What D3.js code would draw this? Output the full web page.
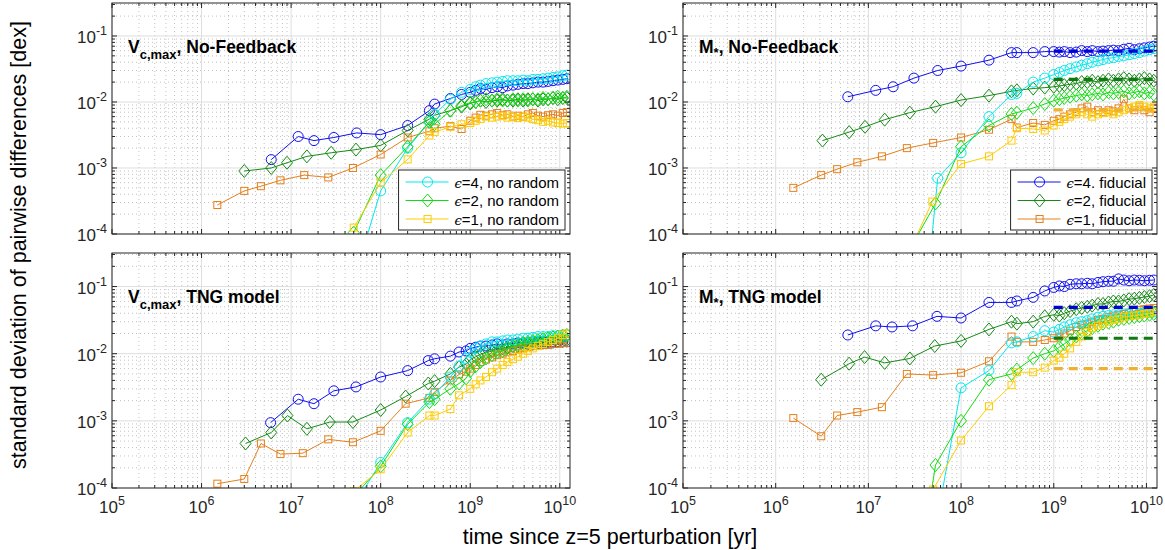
<!DOCTYPE html>
<html><head><meta charset="utf-8">
<script src="https://cdn.jsdelivr.net/npm/d3@7"></script>
<style>body{margin:0;background:#fff;}svg{display:block;font-family:"Liberation Sans",Arial,Helvetica,sans-serif;}</style>
</head><body><svg id="c" width="1165" height="550"></svg>
<script>
// ---------------- data ----------------
const X_TICKS = [1e5, 1e6, 1e7, 1e8, 1e9, 1e10];
const X_TICK_EXP = ["5", "6", "7", "8", "9", "10"];
const Y_TICKS = [1e-4, 1e-3, 1e-2, 1e-1];
const Y_TICK_EXP = ["-4", "-3", "-2", "-1"];
const X_DOMAIN = [1e5, 1.3e10];
const Y_DOMAIN = [1e-4, 0.316];
const LEG_NORAND = ["=4, no random", "=2, no random", "=1, no random"];
const LEG_FID = ["=4. fiducial", "=2, fiducial", "=1, fiducial"];
const T_LATE = [1.0e9,1.15e9,1.3e9,1.5e9,1.75e9,2.0e9,2.3e9,2.6e9,3.0e9,3.4e9,3.9e9,4.4e9,5.0e9,5.7e9,6.5e9,7.4e9,8.4e9,9.5e9,1.08e10,1.2e10];

// Vc,max  No-Feedback
const vNfE4Fid = [[6e6,1.34e-3],[1.2e7,3.0e-3],[1.8e7,2.6e-3],[3e7,2.9e-3],[5.4e7,3.4e-3],[1e8,3.2e-3],[2e8,4.4e-3],[3.5e8,7.4e-3],[4e8,9.3e-3],[6e8,1.13e-2],[8e8,1.3e-2]];
const vNfE4FidLate = [1.4e-2,1.5e-2,1.6e-2,1.55e-2,1.65e-2,1.7e-2,1.65e-2,1.75e-2,1.8e-2,1.85e-2,1.9e-2,1.9e-2,1.95e-2,2.0e-2,2.0e-2,2.05e-2,2.1e-2,2.15e-2,2.2e-2,2.25e-2];
const vNfE4Nr = [[5e7,2e-5],[1e8,4.5e-4],[2e8,2.0e-3],[3.5e8,5.0e-3],[4e8,6.5e-3],[6e8,1.1e-2],[8e8,1.4e-2]];
const vNfE4NrLate = [1.55e-2,1.7e-2,1.8e-2,1.9e-2,1.95e-2,2.0e-2,2.05e-2,2.1e-2,2.1e-2,2.1e-2,2.15e-2,2.1e-2,2.2e-2,2.2e-2,2.25e-2,2.3e-2,2.35e-2,2.4e-2,2.5e-2,2.55e-2];
const vNfE2Fid = [[3e6,9e-4],[6e6,1.0e-3],[9e6,1.2e-3],[1.5e7,1.5e-3],[2.8e7,1.7e-3],[5.3e7,1.9e-3],[1e8,2.2e-3],[2e8,3.7e-3],[3.5e8,5.5e-3],[4e8,6.3e-3],[6e8,7.4e-3],[8e8,8.5e-3]];
const vNfE2FidLate = [9.5e-3,1.0e-2,1.05e-2,1.0e-2,1.05e-2,1.05e-2,1.1e-2,1.05e-2,1.05e-2,1.1e-2,1.05e-2,1.1e-2,1.1e-2,1.05e-2,1.1e-2,1.1e-2,1.15e-2,1.1e-2,1.15e-2,1.15e-2];
const vNfE2Nr = [[5e7,1.05e-4],[1e8,7.8e-4],[2e8,2.1e-3],[3.5e8,5.0e-3],[4e8,4.6e-3],[6e8,7.4e-3],[8e8,8.8e-3]];
const vNfE2NrLate = [9.8e-3,1.0e-2,1.05e-2,1.1e-2,1.05e-2,1.1e-2,1.05e-2,1.05e-2,1.1e-2,1.05e-2,1.1e-2,1.05e-2,1.1e-2,1.1e-2,1.15e-2,1.1e-2,1.15e-2,1.2e-2,1.15e-2,1.2e-2];
const vNfE1Fid = [[1.5e6,2.75e-4],[3e6,4.5e-4],[4.6e6,5.3e-4],[7.6e6,6.5e-4],[1.4e7,7.8e-4],[2.6e7,7.2e-4],[4.9e7,1.0e-3],[1e8,1.6e-3],[2e8,2.9e-3],[3.5e8,3.6e-3],[4e8,4.0e-3],[6e8,4.3e-3],[8e8,3.9e-3]];
const vNfE1FidLate = [5.2e-3,5.8e-3,6.4e-3,6.2e-3,6.5e-3,6.8e-3,6.3e-3,6.5e-3,6.0e-3,6.2e-3,6.0e-3,6.5e-3,6.8e-3,6.2e-3,6.0e-3,6.3e-3,6.5e-3,6.2e-3,6.8e-3,7.0e-3];
const vNfE1Nr = [[5e7,1.25e-4],[1e8,6e-4],[2e8,1.35e-3],[3.5e8,3.1e-3],[4e8,3.5e-3],[6e8,4.2e-3],[8e8,4.6e-3]];
const vNfE1NrLate = [4.8e-3,5.2e-3,5.5e-3,6.0e-3,5.8e-3,6.0e-3,6.2e-3,5.8e-3,6.0e-3,5.7e-3,6.0e-3,5.8e-3,5.5e-3,5.3e-3,5.0e-3,5.2e-3,4.9e-3,4.8e-3,4.7e-3,4.8e-3];

// M*  No-Feedback
const mNfE4Fid = [[6e6,1.2e-2],[1.2e7,1.5e-2],[1.85e7,1.7e-2],[3.1e7,2.3e-2],[5.6e7,3.0e-2],[1e8,3.5e-2],[2e8,4.3e-2],[3.5e8,5.6e-2],[4e8,5.6e-2],[6e8,5.6e-2],[8e8,5.8e-2]];
const mNfE4FidLate = [5.8e-2,5.7e-2,5.8e-2,5.6e-2,5.7e-2,6.0e-2,5.8e-2,6.0e-2,5.8e-2,5.9e-2,6.0e-2,6.1e-2,6.0e-2,6.3e-2,6.5e-2,6.2e-2,6.4e-2,6.6e-2,6.8e-2,7.0e-2];
const mNfE4Nr = [[4e7,6e-6],[5.6e7,7e-4],[1e8,1.7e-3],[2e8,6e-3],[3.5e8,1.3e-2],[4e8,1.35e-2],[6e8,2.0e-2],[8e8,2.3e-2]];
const mNfE4NrLate = [2.6e-2,2.8e-2,3.0e-2,3.2e-2,3.4e-2,3.6e-2,3.8e-2,4.0e-2,4.2e-2,4.4e-2,4.6e-2,4.7e-2,4.9e-2,5.0e-2,5.2e-2,5.4e-2,5.6e-2,5.9e-2,6.2e-2,6.4e-2];
const mNfE2Fid = [[3.2e6,2.6e-3],[6.2e6,3.5e-3],[9.2e6,4.2e-3],[1.5e7,5.4e-3],[2.8e7,6.9e-3],[5.3e7,8.5e-3],[1e8,1.07e-2],[2e8,1.25e-2],[3.5e8,1.45e-2],[4e8,1.5e-2],[6e8,1.6e-2],[8e8,1.65e-2]];
const mNfE2FidLate = [1.7e-2,1.75e-2,1.8e-2,1.85e-2,1.9e-2,2.0e-2,2.0e-2,2.1e-2,2.0e-2,2.1e-2,2.2e-2,2.1e-2,2.2e-2,2.3e-2,2.2e-2,2.1e-2,2.2e-2,2.3e-2,2.2e-2,2.1e-2];
const mNfE2Nr = [[3e7,7e-5],[5.3e7,2.9e-4],[1e8,2.1e-3],[2e8,4.4e-3],[3.5e8,6.6e-3],[4e8,6.9e-3],[6e8,8.1e-3],[8e8,9.3e-3]];
const mNfE2NrLate = [1.05e-2,1.1e-2,1.15e-2,1.2e-2,1.25e-2,1.3e-2,1.25e-2,1.3e-2,1.35e-2,1.3e-2,1.4e-2,1.35e-2,1.4e-2,1.45e-2,1.35e-2,1.4e-2,1.45e-2,1.35e-2,1.4e-2,1.3e-2];
const mNfE1Fid = [[1.55e6,5.0e-4],[3.1e6,7.8e-4],[4.6e6,9.6e-4],[7.6e6,1.22e-3],[1.4e7,1.5e-3],[2.6e7,2.0e-3],[5e7,2.4e-3],[1e8,2.9e-3],[2e8,3.8e-3],[3.5e8,5.5e-3],[4e8,4.1e-3],[6e8,4.8e-3],[8e8,4.5e-3]];
const mNfE1FidLate = [5.2e-3,5.5e-3,6.0e-3,6.5e-3,7.0e-3,8.0e-3,8.5e-3,7.0e-3,7.5e-3,7.0e-3,7.5e-3,7.2e-3,8.0e-3,1.1e-2,8.0e-3,7.5e-3,8.5e-3,7.5e-3,7.0e-3,8.0e-3];
const mNfE1Nr = [[3e7,7e-5],[4.9e7,3.1e-4],[1e8,1.15e-3],[2e8,1.5e-3],[3.5e8,2.6e-3],[4e8,4.0e-3],[6e8,3.9e-3],[8e8,3.7e-3]];
const mNfE1NrLate = [4.4e-3,5.0e-3,5.5e-3,6.0e-3,6.5e-3,7.0e-3,6.5e-3,6.0e-3,6.5e-3,6.8e-3,7.0e-3,6.5e-3,7.0e-3,7.5e-3,8.0e-3,8.5e-3,9.0e-3,8.5e-3,8.0e-3,8.5e-3];
const mNfDash = [5.9e-2, 2.2e-2, 7.6e-3];

// Vc,max  TNG
const vTgE4Fid = [[5.9e6,9.4e-4],[1.2e7,2.1e-3],[1.8e7,1.8e-3],[3e7,2.8e-3],[5.3e7,3.2e-3],[1e8,4.5e-3],[2e8,5.6e-3],[3.4e8,7.9e-3],[4e8,8.4e-3],[6e8,9.2e-3],[7.5e8,1.06e-2],[9e8,1.1e-2]];
const vTgE4FidLate = [1.2e-2,1.25e-2,1.3e-2,1.3e-2,1.35e-2,1.4e-2,1.35e-2,1.4e-2,1.4e-2,1.45e-2,1.45e-2,1.45e-2,1.5e-2,1.5e-2,1.5e-2,1.5e-2,1.5e-2,1.5e-2,1.5e-2,1.5e-2];
const vTgE4Nr = [[5e7,5.4e-5],[1e8,2.4e-4],[2e8,9.4e-4],[3.5e8,2.1e-3],[4e8,2.5e-3],[6e8,4.5e-3],[7.5e8,6.5e-3],[9e8,8.5e-3]];
const vTgE4NrLate = [1.05e-2,1.2e-2,1.3e-2,1.4e-2,1.5e-2,1.5e-2,1.55e-2,1.6e-2,1.6e-2,1.65e-2,1.7e-2,1.7e-2,1.75e-2,1.8e-2,1.8e-2,1.8e-2,1.85e-2,1.85e-2,1.9e-2,1.9e-2];
const vTgE2Fid = [[3.1e6,4.6e-4],[6e6,6.7e-4],[9.1e6,1.2e-3],[1.5e7,7.6e-4],[2.7e7,9.6e-4],[4.9e7,9.6e-4],[1e8,1.45e-3],[1.9e8,2.3e-3],[3.4e8,3.6e-3],[4e8,3.9e-3],[6e8,5.0e-3],[7.5e8,6.3e-3],[9e8,7e-3]];
const vTgE2FidLate = [8.2e-3,9.0e-3,9.8e-3,1.05e-2,1.1e-2,1.15e-2,1.2e-2,1.25e-2,1.3e-2,1.3e-2,1.35e-2,1.4e-2,1.4e-2,1.45e-2,1.45e-2,1.5e-2,1.5e-2,1.55e-2,1.55e-2,1.6e-2];
const vTgE2Nr = [[5e7,7.4e-5],[1e8,2.1e-4],[2e8,8.9e-4],[3.5e8,1.9e-3],[4e8,2.1e-3],[6e8,3.0e-3],[7.5e8,3.6e-3],[9e8,4.3e-3]];
const vTgE2NrLate = [5.5e-3,6.5e-3,7.5e-3,8.5e-3,9.5e-3,1.05e-2,1.1e-2,1.2e-2,1.3e-2,1.35e-2,1.45e-2,1.5e-2,1.55e-2,1.6e-2,1.65e-2,1.7e-2,1.75e-2,1.8e-2,1.85e-2,1.9e-2];
const vTgE1Fid = [[1.5e6,1.16e-4],[3e6,1.36e-4],[4.6e6,4.6e-4],[7.6e6,3.2e-4],[1.35e7,3.3e-4],[2.6e7,5.3e-4],[4.9e7,4.8e-4],[1e8,7.1e-4],[1.9e8,1.8e-3],[3.5e8,2.2e-3],[4e8,2.7e-3],[6e8,4.0e-3],[7.5e8,4.9e-3],[9e8,5.4e-3]];
const vTgE1FidLate = [6.0e-3,6.8e-3,7.5e-3,8.2e-3,8.8e-3,9.5e-3,1.0e-2,1.05e-2,1.1e-2,1.15e-2,1.2e-2,1.25e-2,1.3e-2,1.3e-2,1.35e-2,1.35e-2,1.4e-2,1.4e-2,1.45e-2,1.45e-2];
const vTgE1Nr = [[5e7,9e-5],[1e8,1.9e-4],[2e8,6.7e-4],[3.5e8,1.2e-3],[4e8,1.2e-3],[6e8,1.5e-3],[7.5e8,2.4e-3]];
const vTgE1NrLate = [3.0e-3,3.5e-3,4.0e-3,4.5e-3,5.3e-3,6.0e-3,6.8e-3,7.5e-3,8.3e-3,9.0e-3,1.0e-2,1.1e-2,1.2e-2,1.3e-2,1.4e-2,1.5e-2,1.6e-2,1.7e-2,1.9e-2,2.0e-2];

// M*  TNG
const mTgE4Fid = [[6e6,1.9e-2],[1.2e7,2.6e-2],[1.8e7,2.5e-2],[3e7,2.6e-2],[5.5e7,3.6e-2],[1e8,3.4e-2],[2e8,5.8e-2],[3.5e8,5.8e-2],[4e8,6.1e-2],[6e8,6.9e-2],[8e8,8.6e-2]];
const mTgE4FidLate = [9.7e-2,1.02e-1,1.0e-1,1.08e-1,1.1e-1,1.1e-1,1.12e-1,1.1e-1,1.15e-1,1.18e-1,1.2e-1,1.2e-1,1.3e-1,1.25e-1,1.22e-1,1.25e-1,1.24e-1,1.22e-1,1.24e-1,1.25e-1];
const mTgE4Nr = [[5e7,1.6e-5],[1e8,3.1e-3],[2e8,5.6e-3],[3.5e8,1.45e-2],[4e8,1.5e-2],[6e8,1.8e-2],[8e8,2.2e-2]];
const mTgE4NrLate = [2.1e-2,2.3e-2,2.5e-2,2.7e-2,2.9e-2,3.0e-2,3.1e-2,3.3e-2,3.5e-2,3.6e-2,3.7e-2,3.8e-2,3.8e-2,3.9e-2,3.9e-2,4.0e-2,4.0e-2,4.1e-2,4.1e-2,4.2e-2];
const mTgE2Fid = [[3.1e6,4.1e-3],[6.2e6,7.1e-3],[9.1e6,8.9e-3],[1.5e7,7.3e-3],[2.8e7,8.5e-3],[5.2e7,1.3e-2],[1e8,1.55e-2],[2e8,2.3e-2],[3.5e8,3.0e-2],[4e8,2.8e-2],[6e8,3.0e-2],[8e8,3.6e-2]];
const mTgE2FidLate = [3.8e-2,3.7e-2,4.0e-2,4.3e-2,4.6e-2,4.8e-2,5.0e-2,5.2e-2,5.5e-2,5.5e-2,5.8e-2,6.0e-2,6.0e-2,6.2e-2,6.5e-2,6.6e-2,6.8e-2,7.0e-2,7.2e-2,7.5e-2];
const mTgE2Nr = [[4e7,1.8e-5],[5.3e7,2.2e-4],[1e8,1.0e-3],[2e8,4.1e-3],[3.5e8,5.0e-3],[4e8,5.8e-3],[6e8,8.6e-3],[8e8,1.0e-2]];
const mTgE2NrLate = [1.1e-2,1.25e-2,1.4e-2,1.6e-2,1.8e-2,2.0e-2,2.2e-2,2.4e-2,2.6e-2,2.8e-2,2.9e-2,3.0e-2,3.2e-2,3.3e-2,3.4e-2,3.5e-2,3.6e-2,3.7e-2,3.8e-2,3.9e-2];
const mTgE1Fid = [[1.55e6,1.1e-3],[3.1e6,5.9e-4],[4.6e6,1.2e-3],[7.6e6,1.35e-3],[1.4e7,1.6e-3],[2.6e7,5.0e-3],[5e7,4.8e-3],[1e8,5.2e-3],[2e8,7.7e-3],[3.5e8,1.8e-2],[4e8,1.5e-2],[6e8,1.5e-2],[8e8,1.6e-2]];
const mTgE1FidLate = [1.7e-2,1.8e-2,2.0e-2,2.2e-2,2.5e-2,2.7e-2,2.8e-2,3.0e-2,3.2e-2,3.3e-2,3.5e-2,3.7e-2,3.8e-2,3.9e-2,4.1e-2,4.3e-2,4.5e-2,4.6e-2,4.7e-2,4.8e-2];
const mTgE1Nr = [[5e7,9.5e-5],[1e8,5.1e-4],[2e8,1.65e-3],[3.5e8,3.4e-3],[4e8,5.3e-3],[6e8,5.3e-3],[8e8,6.2e-3]];
const mTgE1NrLate = [7.9e-3,8.7e-3,1.0e-2,1.2e-2,1.5e-2,1.8e-2,2.1e-2,2.4e-2,2.6e-2,2.8e-2,3.0e-2,3.2e-2,3.3e-2,3.5e-2,3.6e-2,3.7e-2,3.8e-2,3.9e-2,4.0e-2,4.2e-2];
const mTgDash = [4.9e-2, 1.7e-2, 6.0e-3];

// ---------------- styles & layout ----------------
const STY = {
  e4f: {color: "#1010ee", marker: "circle"},
  e2f: {color: "#158a15", marker: "diamond"},
  e1f: {color: "#e5801c", marker: "square"},
  e4n: {color: "#00e8ee", marker: "circle"},
  e2n: {color: "#14dc14", marker: "diamond"},
  e1n: {color: "#ffcc00", marker: "square"}
};
const DASH_COL = ["#0000d8", "#107a10", "#f0b030"];
const join = (early, late) => early.concat(late.map((v, i) => [T_LATE[i], v]));

const panels = [
  {x0:112, x1:570, y0:3, y1:234, tMain:"V", tSub:"c,max", tRest:", No-Feedback", subDy:6, xLabels:false,
   series:[["e4f",join(vNfE4Fid,vNfE4FidLate)],["e2f",join(vNfE2Fid,vNfE2FidLate)],["e1f",join(vNfE1Fid,vNfE1FidLate)],
           ["e4n",join(vNfE4Nr,vNfE4NrLate)],["e2n",join(vNfE2Nr,vNfE2NrLate)],["e1n",join(vNfE1Nr,vNfE1NrLate)]],
   legend:{keys:["e4n","e2n","e1n"], labels:LEG_NORAND}, dash:null},
  {x0:683, x1:1157, y0:3, y1:234, tMain:"M", tSub:"*", tRest:", No-Feedback", subDy:4, xLabels:false,
   series:[["e4f",join(mNfE4Fid,mNfE4FidLate)],["e2f",join(mNfE2Fid,mNfE2FidLate)],["e1f",join(mNfE1Fid,mNfE1FidLate)],
           ["e4n",join(mNfE4Nr,mNfE4NrLate)],["e2n",join(mNfE2Nr,mNfE2NrLate)],["e1n",join(mNfE1Nr,mNfE1NrLate)]],
   legend:{keys:["e4f","e2f","e1f"], labels:LEG_FID}, dash:mNfDash},
  {x0:112, x1:570, y0:253, y1:488, tMain:"V", tSub:"c,max", tRest:", TNG model", subDy:6, xLabels:true,
   series:[["e4f",join(vTgE4Fid,vTgE4FidLate)],["e2f",join(vTgE2Fid,vTgE2FidLate)],["e1f",join(vTgE1Fid,vTgE1FidLate)],
           ["e4n",join(vTgE4Nr,vTgE4NrLate)],["e2n",join(vTgE2Nr,vTgE2NrLate)],["e1n",join(vTgE1Nr,vTgE1NrLate)]],
   legend:null, dash:null},
  {x0:683, x1:1157, y0:253, y1:488, tMain:"M", tSub:"*", tRest:", TNG model", subDy:4, xLabels:true,
   series:[["e4f",join(mTgE4Fid,mTgE4FidLate)],["e2f",join(mTgE2Fid,mTgE2FidLate)],["e1f",join(mTgE1Fid,mTgE1FidLate)],
           ["e4n",join(mTgE4Nr,mTgE4NrLate)],["e2n",join(mTgE2Nr,mTgE2NrLate)],["e1n",join(mTgE1Nr,mTgE1NrLate)]],
   legend:null, dash:mTgDash}
];

const svg = d3.select("#c");
svg.append("rect").attr("width",1165).attr("height",550).attr("fill","#fff");
const AX = "#262626";

function marker(g, type, color, x, y) {
  if (type === "circle") g.append("circle").attr("cx",x).attr("cy",y).attr("r",5).attr("fill","none").attr("stroke",color).attr("stroke-width",1);
  else if (type === "diamond") g.append("path").attr("d",`M${x},${y-6.5}L${x+5.5},${y}L${x},${y+6.5}L${x-5.5},${y}Z`).attr("fill","none").attr("stroke",color).attr("stroke-width",1);
  else g.append("rect").attr("x",x-3.5).attr("y",y-3.5).attr("width",7).attr("height",7).attr("fill","none").attr("stroke",color).attr("stroke-width",1);
}

function minorTicks(domain) {
  const out = [];
  const lo = Math.floor(Math.log10(domain[0])), hi = Math.ceil(Math.log10(domain[1]));
  for (let e = lo; e <= hi; e++) for (let m = 2; m <= 9; m++) {
    const v = m * Math.pow(10, e);
    if (v > domain[0] && v < domain[1]) out.push(v);
  }
  return out;
}

panels.forEach((p, pi) => {
  const x = d3.scaleLog().domain(X_DOMAIN).range([p.x0, p.x1]);
  const y = d3.scaleLog().domain(Y_DOMAIN).range([p.y1, p.y0]);
  const g = svg.append("g");
  const clipId = "clip" + pi;
  svg.append("clipPath").attr("id", clipId).append("rect")
    .attr("x", p.x0).attr("y", p.y0).attr("width", p.x1 - p.x0).attr("height", p.y1 - p.y0);

  const gg = g.append("g");
  minorTicks(X_DOMAIN).forEach(v => gg.append("line").attr("x1",x(v)).attr("x2",x(v)).attr("y1",p.y0).attr("y2",p.y1)
     .attr("stroke","#b4b4b4").attr("stroke-width",0.8).attr("stroke-dasharray","1,3"));
  minorTicks(Y_DOMAIN).forEach(v => gg.append("line").attr("y1",y(v)).attr("y2",y(v)).attr("x1",p.x0).attr("x2",p.x1)
     .attr("stroke","#b4b4b4").attr("stroke-width",0.8).attr("stroke-dasharray","1,3"));
  X_TICKS.forEach(v => gg.append("line").attr("x1",x(v)).attr("x2",x(v)).attr("y1",p.y0).attr("y2",p.y1).attr("stroke","#dedede").attr("stroke-width",1));
  Y_TICKS.forEach(v => gg.append("line").attr("y1",y(v)).attr("y2",y(v)).attr("x1",p.x0).attr("x2",p.x1).attr("stroke","#dedede").attr("stroke-width",1));

  const sg = g.append("g").attr("clip-path", `url(#${clipId})`);
  const line = d3.line().x(d => x(d[0])).y(d => y(d[1]));
  p.series.forEach(([key, data]) => {
    const s = STY[key];
    sg.append("path").attr("d", line(data)).attr("fill","none").attr("stroke", s.color).attr("stroke-width",1);
    data.forEach(d => marker(sg, s.marker, s.color, x(d[0]), y(d[1])));
  });

  if (p.dash) p.dash.forEach((v, i) => {
    sg.append("line").attr("x1", x(1e9)).attr("x2", p.x1).attr("y1", y(v)).attr("y2", y(v))
      .attr("stroke", DASH_COL[i]).attr("stroke-width", 3.2).attr("stroke-dasharray", "9,6");
  });

  const ag = g.append("g").attr("stroke", AX).attr("stroke-width", 1).attr("fill","none");
  ag.append("rect").attr("x",p.x0).attr("y",p.y0).attr("width",p.x1-p.x0).attr("height",p.y1-p.y0);
  X_TICKS.forEach(v => { const xx = x(v);
    ag.append("line").attr("x1",xx).attr("x2",xx).attr("y1",p.y1).attr("y2",p.y1-5);
    ag.append("line").attr("x1",xx).attr("x2",xx).attr("y1",p.y0).attr("y2",p.y0+5); });
  minorTicks(X_DOMAIN).forEach(v => { const xx = x(v);
    ag.append("line").attr("x1",xx).attr("x2",xx).attr("y1",p.y1).attr("y2",p.y1-3);
    ag.append("line").attr("x1",xx).attr("x2",xx).attr("y1",p.y0).attr("y2",p.y0+3); });
  Y_TICKS.forEach(v => { const yy = y(v);
    ag.append("line").attr("y1",yy).attr("y2",yy).attr("x1",p.x0).attr("x2",p.x0+5);
    ag.append("line").attr("y1",yy).attr("y2",yy).attr("x1",p.x1).attr("x2",p.x1-5); });
  minorTicks(Y_DOMAIN).forEach(v => { const yy = y(v);
    ag.append("line").attr("y1",yy).attr("y2",yy).attr("x1",p.x0).attr("x2",p.x0+3);
    ag.append("line").attr("y1",yy).attr("y2",yy).attr("x1",p.x1).attr("x2",p.x1-3); });

  Y_TICKS.forEach((v, i) => {
    const t = g.append("text").attr("x", p.x0 - 5).attr("y", y(v) + 7).attr("text-anchor","end")
      .attr("font-size", 17).attr("fill", AX);
    t.append("tspan").text("10");
    t.append("tspan").attr("dy", -8).attr("font-size", 12.5).text(Y_TICK_EXP[i]);
  });
  if (p.xLabels) X_TICKS.forEach((v, i) => {
    const t = g.append("text").attr("x", x(v)).attr("y", p.y1 + 25).attr("text-anchor","middle")
      .attr("font-size", 17).attr("fill", AX);
    t.append("tspan").text("10");
    t.append("tspan").attr("dy", -8).attr("font-size", 12.5).text(X_TICK_EXP[i]);
  });

  const tt = g.append("text").attr("x", p.x0 + 16).attr("y", p.y0 + 50).attr("font-size", 17.5)
    .attr("font-weight", "bold").attr("fill", "#000");
  tt.append("tspan").text(p.tMain);
  tt.append("tspan").attr("dy", p.subDy).attr("font-size", 13).text(p.tSub);
  tt.append("tspan").attr("dy", -p.subDy).text(p.tRest);

  if (p.legend) {
    const lg = g.append("g");
    const box = lg.append("rect").attr("fill","#fff").attr("stroke", AX).attr("stroke-width", 1);
    const texts = [];
    p.legend.keys.forEach((k, i) => {
      const t = lg.append("text").attr("font-size", 15).attr("fill", "#000");
      t.append("tspan").attr("font-family", "'DejaVu Serif', serif").attr("font-style","italic").attr("font-size", 13).text("\u03F5");
      t.append("tspan").text(p.legend.labels[i]);
      texts.push(t);
    });
    const tw = d3.max(texts, t => t.node().getComputedTextLength());
    const bw = 56 + tw + 6, bh = 60;
    const L = p.x1 - 5 - bw, T = p.y1 - 4 - bh;
    box.attr("x", L).attr("y", T).attr("width", bw).attr("height", bh);
    p.legend.keys.forEach((k, i) => {
      const s = STY[k], ry = T + 12 + i * 18.5;
      lg.append("line").attr("x1", L + 7).attr("x2", L + 50).attr("y1", ry).attr("y2", ry).attr("stroke", s.color).attr("stroke-width", 1);
      marker(lg, s.marker, s.color, L + 29, ry);
      texts[i].attr("x", L + 56).attr("y", ry + 5.5);
    });
  }
});

svg.append("text").attr("x", 610).attr("y", 544).attr("text-anchor","middle").attr("font-size", 21.5).attr("fill","#000")
  .text("time since z=5 perturbation [yr]");
svg.append("text").attr("transform", "translate(26,245) rotate(-90)").attr("text-anchor","middle").attr("font-size", 21.5).attr("fill","#000")
  .text("standard deviation of pairwise differences [dex]");
</script></body></html>
